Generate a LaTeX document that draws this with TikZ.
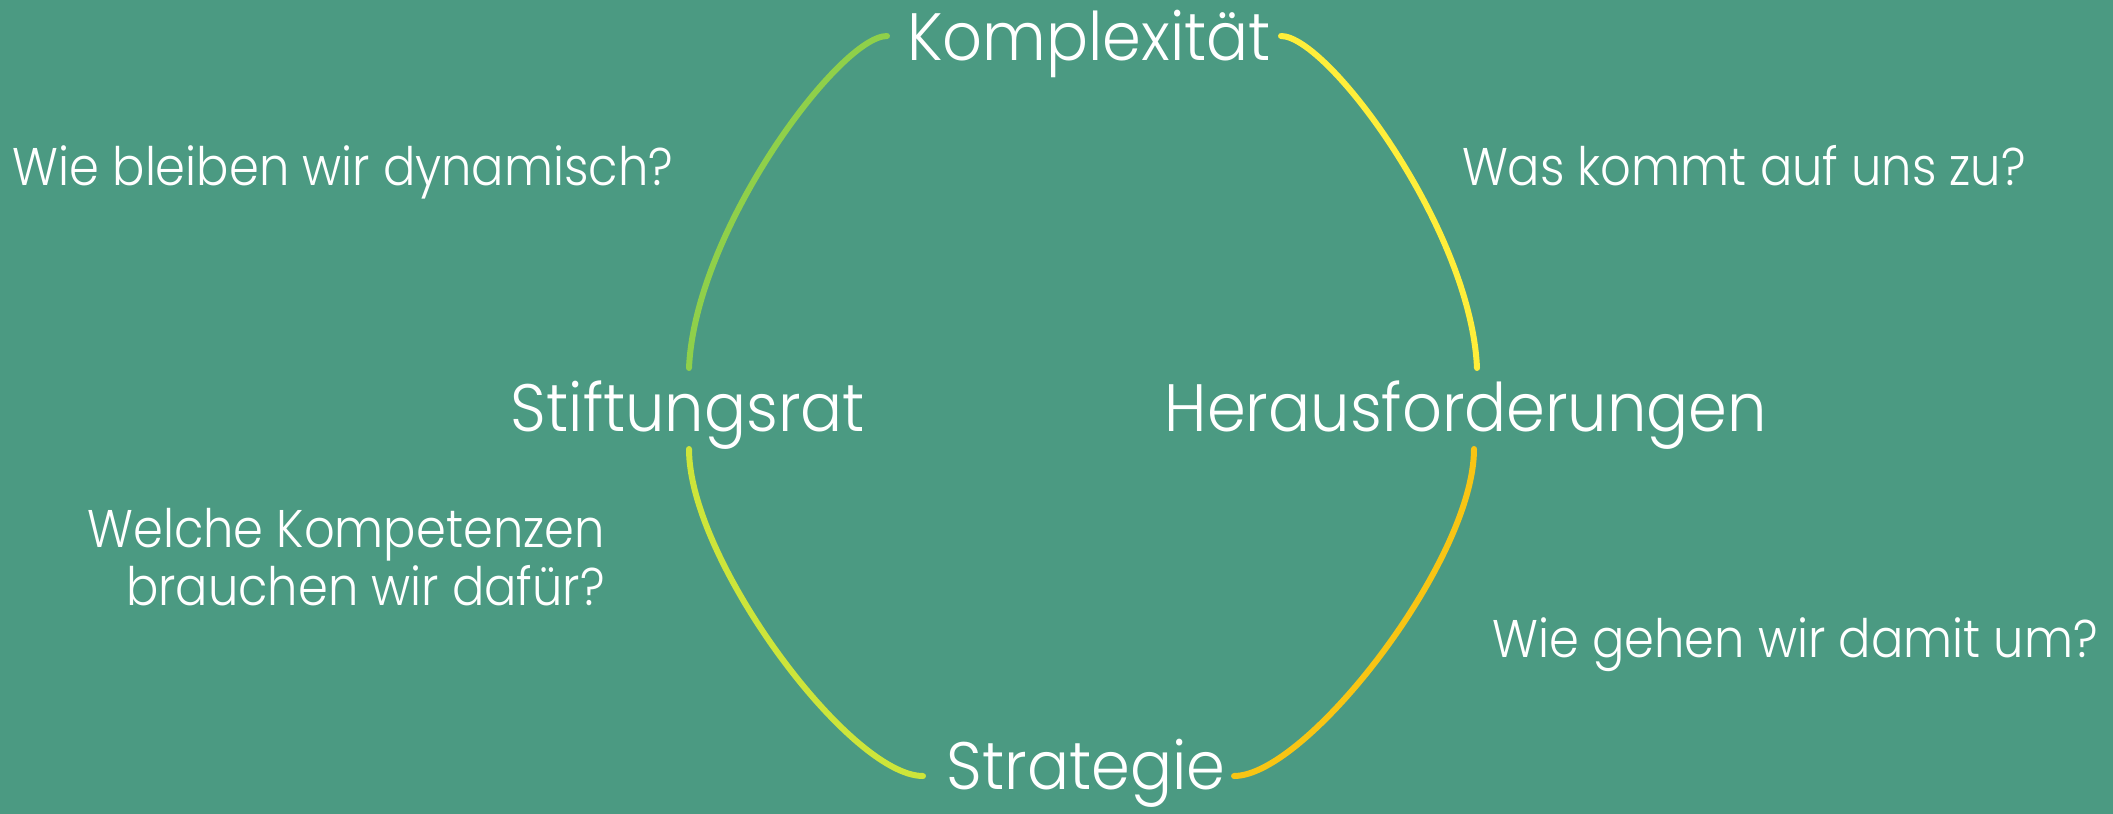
\documentclass[tikz,border=0pt]{standalone}
\usepackage{fontspec}
\setmainfont{Poppins Light}
\newfontfamily\labelfont{Poppins Light}[FakeStretch=0.93]
\newfontfamily\questfont{Poppins Light}[FakeStretch=0.905]
\definecolor{bg}{HTML}{4B9A82}
\definecolor{arcA}{HTML}{8FD04A}
\definecolor{arcB}{HTML}{FFEE3A}
\definecolor{arcC}{HTML}{CDE53A}
\definecolor{arcD}{HTML}{F8C514}
\tikzset{
  mainlabel/.style={text=white, inner sep=0pt, anchor=base, font=\labelfont\fontsize{67}{70}\selectfont},
  question/.style={text=white, inner sep=0pt, anchor=base, font=\questfont\fontsize{53}{58}\selectfont},
  arcline/.style={line width=6pt, line cap=round}
}
\begin{document}
\begin{tikzpicture}[x=1pt,y=-1pt]
\fill[bg] (0,0) rectangle (2113,814);
\useasboundingbox (0,0) rectangle (2113,814);
% labels
\node[mainlabel] (komp) at (1089,60) {Komplexität};
\node[mainlabel] (stift) at (688,431) {Stiftungsrat};
\node[mainlabel] (hera) at (1466,431) {Herausforderungen};
\node[mainlabel] (strat) at (1086,789) {Strategie};
\node[question] (q1) at (343,185) {Wie bleiben wir dynamisch?};
\node[question] (q2) at (1744,185) {Was kommt auf uns zu?};
\node[question, anchor=base east, align=right] (q3) at (605,605) {Welche Kompetenzen\\brauchen wir dafür?};
\node[question] (q4) at (1795,657) {Wie gehen wir damit um?};
% arc end points
\coordinate (kL) at (887,36);
\coordinate (kR) at (1281,36);
\coordinate (sT) at (689,368);
\coordinate (sB) at (689,449);
\coordinate (hT) at (1477,368);
\coordinate (hB) at (1474,449);
\coordinate (gL) at (923,776);
\coordinate (gR) at (1234,776);
% arcs
\draw[arcline, arcA] (kL) .. controls (840,36) and (695,230) .. (sT);
\draw[arcline, arcB] (kR) .. controls (1328,36) and (1471,230) .. (hT);
\draw[arcline, arcC] (sB) .. controls (689,560) and (850,776) .. (gL);
\draw[arcline, arcD] (hB) .. controls (1474,560) and (1307,776) .. (gR);
\end{tikzpicture}
\end{document}
